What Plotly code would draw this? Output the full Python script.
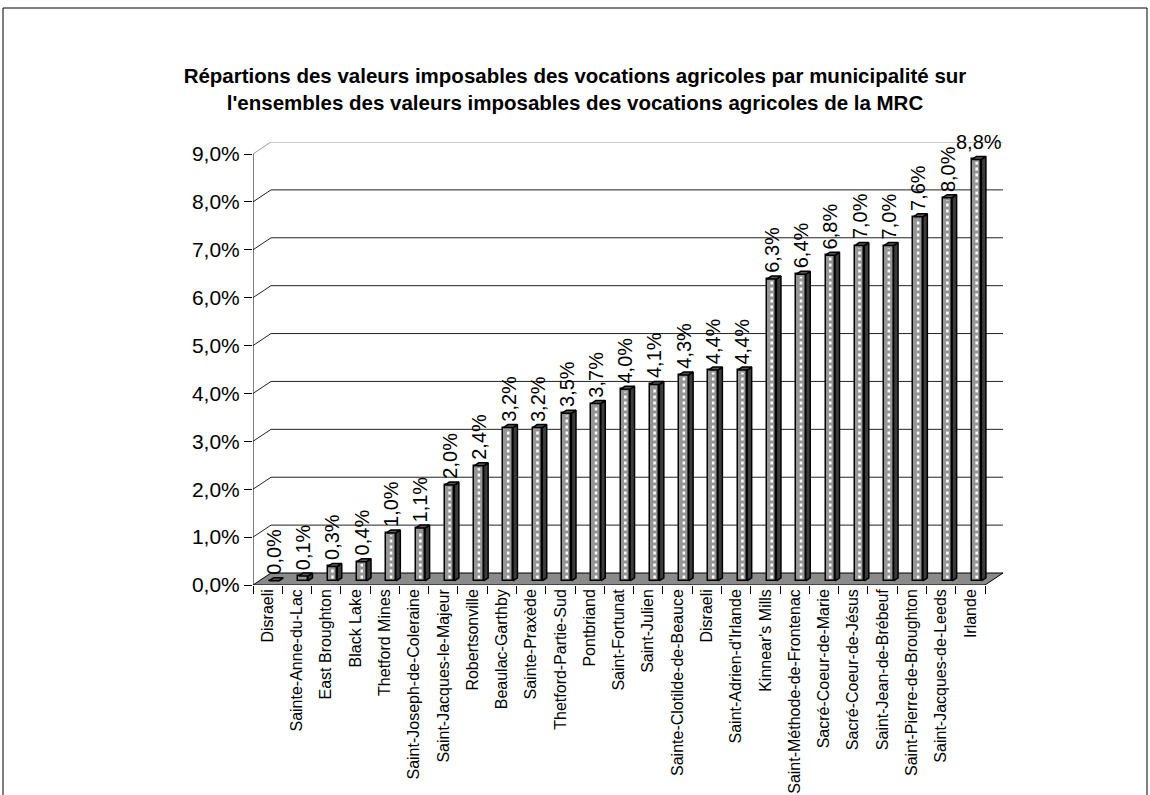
import plotly.graph_objects as go

# Share of taxable agricultural value, by municipality (% of the MRC total)
municipalites = [
    "Disraeli", "Sainte-Anne-du-Lac", "East Broughton", "Black Lake", "Thetford Mines",
    "Saint-Joseph-de-Coleraine", "Saint-Jacques-le-Majeur", "Robertsonville", "Beaulac-Garthby",
    "Sainte-Praxède", "Thetford-Partie-Sud", "Pontbriand", "Saint-Fortunat", "Saint-Julien",
    "Sainte-Clotilde-de-Beauce", "Disraeli", "Saint-Adrien-d'Irlande", "Kinnear's Mills",
    "Saint-Méthode-de-Frontenac", "Sacré-Coeur-de-Marie", "Sacré-Coeur-de-Jésus",
    "Saint-Jean-de-Brébeuf", "Saint-Pierre-de-Broughton", "Saint-Jacques-de-Leeds", "Irlande",
]
parts = [0.0, 0.1, 0.3, 0.4, 1.0, 1.1, 2.0, 2.4, 3.2, 3.2, 3.5, 3.7, 4.0, 4.1, 4.3,
         4.4, 4.4, 6.3, 6.4, 6.8, 7.0, 7.0, 7.6, 8.0, 8.8]
y_ticks = [0, 1, 2, 3, 4, 5, 6, 7, 8, 9]

FONT = "Liberation Sans, Arial, sans-serif"
W, H = 1150, 795

# plot frame (pixels) and pseudo-3D depth of the chart box
L_PX, R_PX, T_PX, B_PX = 253, 1003, 142, 585
FRONT_RIGHT_PX = 985
n = len(municipalites)
px_per_cat = (FRONT_RIGHT_PX - L_PX) / n
DX = (R_PX - FRONT_RIGHT_PX) / px_per_cat          # depth, category units
px_per_pct = (B_PX - T_PX) / (max(y_ticks) + 0.25)
DY = 12 / px_per_pct                                # depth, % units
x_lo, x_hi = -0.5, n - 0.5 + DX
y_hi = max(y_ticks) + DY

# bar placement inside the depth
F1, F2 = 0.35, 0.6
BW = 9.5 / px_per_cat
d = F2 - F1

def fmt(v):
    return f"{v:.1f}%".replace(".", ",")

xs = list(range(n))
xc = [i + F1 * DX for i in xs]
base = F1 * DY

shapes = []
# floor
shapes.append(dict(
    type="path", xref="x", yref="y", layer="below",
    path=f"M {x_lo},0 L {n - 0.5},0 L {n - 0.5 + DX},{DY} L {x_lo + DX},{DY} Z",
    fillcolor="#8a8a8a", line=dict(color="black", width=1)))
# side wall diagonals + back wall gridlines
for k in y_ticks[1:]:
    col = "#9a9a9a" if k == max(y_ticks) else "#222222"
    shapes.append(dict(
        type="path", xref="x", yref="y", layer="below",
        path=f"M {x_lo},{k} L {x_lo + DX},{k + DY} L {x_hi},{k + DY}",
        line=dict(color=col, width=1)))
# value axis line
shapes.append(dict(type="line", xref="x", yref="y", layer="below",
                   x0=x_lo, x1=x_lo, y0=0, y1=max(y_ticks),
                   line=dict(color="black", width=1)))
# outer chart border
pw = R_PX - L_PX
ph = B_PX - T_PX
shapes.append(dict(type="rect", xref="paper", yref="paper",
                   x0=(3 - L_PX) / pw, x1=(1147 - L_PX) / pw,
                   y0=(B_PX - 830) / ph, y1=(B_PX - 8) / ph,
                   line=dict(color="black", width=1), fillcolor="rgba(0,0,0,0)"))

fig = go.Figure()

# front faces of the columns
fig.add_trace(go.Bar(
    x=xc, y=parts, base=[base] * n, width=BW,
    marker=dict(color="#959595", line=dict(color="black", width=1.5)),
    hoverinfo="skip", showlegend=False))

# white dotted stripe on the front faces
sx, sy = [], []
for x, v in zip(xc, parts):
    if v > 0.15:
        sx += [x, x, None]
        sy += [base + 0.05, base + v - 0.05, None]
fig.add_trace(go.Scatter(x=sx, y=sy, mode="lines",
                         line=dict(color="white", width=2.5, dash="dot"),
                         hoverinfo="skip", showlegend=False))

# side and top faces
side_x, side_y, top_x, top_y = [], [], [], []
for x, v in zip(xc, parts):
    xl, xr = x - BW / 2, x + BW / 2
    top = base + v
    side_x += [xr, xr, xr + d * DX, xr + d * DX, xr, None]
    side_y += [base, top, top + d * DY, base + d * DY, base, None]
    top_x += [xl, xr, xr + d * DX, xl + d * DX, xl, None]
    top_y += [top, top, top + d * DY, top + d * DY, top, None]
fig.add_trace(go.Scatter(x=side_x, y=side_y, mode="lines", fill="toself",
                         fillcolor="#3c3c3c", line=dict(color="black", width=1.5),
                         hoverinfo="skip", showlegend=False))
fig.add_trace(go.Scatter(x=top_x, y=top_y, mode="lines", fill="toself",
                         fillcolor="#555555", line=dict(color="black", width=1.5),
                         hoverinfo="skip", showlegend=False))

# value labels
annotations = []
for i, (x, v) in enumerate(zip(xc, parts)):
    top = base + v + d * DY
    last = i == n - 1
    annotations.append(dict(
        x=x + (d * DX / 2 if last else 0), y=top, xref="x", yref="y",
        text=fmt(v), showarrow=False,
        textangle=0 if last else -90,
        xanchor="center", yanchor="bottom", yshift=1,
        font=dict(family=FONT, size=20, color="black")))

fig.update_layout(
    width=W, height=H,
    margin=dict(l=L_PX, r=W - R_PX, t=T_PX, b=H - B_PX, autoexpand=False),
    paper_bgcolor="white", plot_bgcolor="white",
    font=dict(family=FONT, color="black"),
    title=dict(
        text="Répartions des valeurs imposables des vocations agricoles par municipalité sur<br>"
             "l'ensembles des valeurs imposables des vocations agricoles de la MRC",
        x=0.5, xref="container", xanchor="center",
        y=1 - 83 / H, yref="container", yanchor="top",
        font=dict(family=FONT, size=20.5, weight="bold", color="black")),
    shapes=shapes,
    annotations=annotations,
    showlegend=False,
    bargap=0,
)
fig.update_xaxes(
    range=[x_lo, x_hi], tickmode="array", tickvals=xs, ticktext=municipalites,
    tickangle=-90, ticks="", showgrid=False, zeroline=False, showline=False,
    tickfont=dict(family=FONT, size=16, color="black"),
    minor=dict(tickmode="array", tickvals=[i - 0.5 for i in range(n + 1)],
               ticks="outside", ticklen=8, tickcolor="black", tickwidth=1, showgrid=False),
    automargin=False,
)
fig.update_yaxes(
    range=[0, y_hi], tickmode="array", tickvals=y_ticks,
    ticktext=[fmt(v) for v in y_ticks],
    ticks="outside", ticklen=8, tickcolor="black", tickwidth=1,
    showgrid=False, zeroline=False, showline=False,
    tickfont=dict(family=FONT, size=21, color="black"),
    automargin=False,
)

fig.write_html("out.html")
